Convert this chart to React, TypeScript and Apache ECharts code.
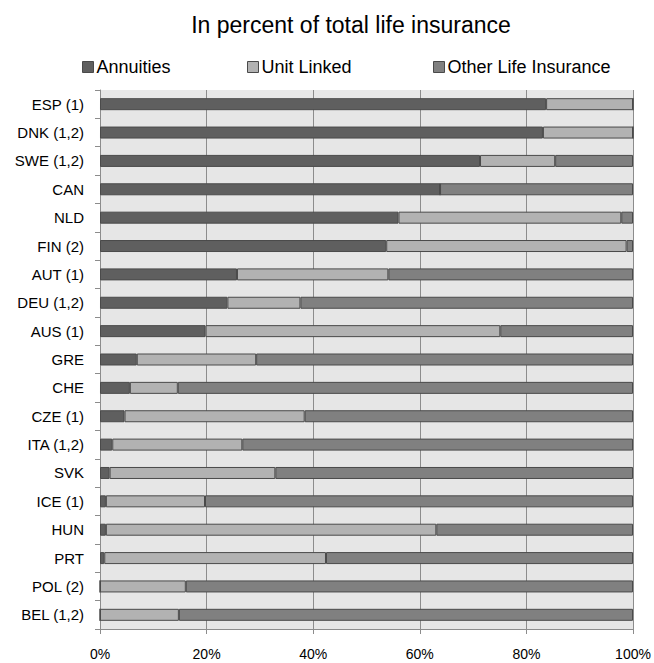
import React, { useEffect, useRef } from "react";
import * as echarts from "echarts";

const title = "In percent of total life insurance";
const categories = [
  "ESP (1)", "DNK (1,2)", "SWE (1,2)", "CAN", "NLD", "FIN (2)", "AUT (1)", "DEU (1,2)", "AUS (1)",
  "GRE", "CHE", "CZE (1)", "ITA (1,2)", "SVK", "ICE (1)", "HUN", "PRT", "POL (2)", "BEL (1,2)",
];
const annuities = [83.7, 83.1, 71.3, 63.8, 56.0, 53.7, 25.7, 23.9, 19.8, 6.9, 5.6, 4.6, 2.3, 1.8, 1.1, 1.1, 0.8, 0, 0];
const unitLinked = [16.3, 16.9, 14.1, 0, 41.8, 45.1, 28.4, 13.7, 55.3, 22.4, 9.0, 33.8, 24.4, 31.1, 18.6, 62.0, 41.6, 16.1, 14.8];
const otherLife = [0, 0, 14.6, 36.2, 2.2, 1.2, 45.9, 62.4, 24.9, 70.7, 85.4, 61.6, 73.3, 67.1, 80.3, 36.9, 57.6, 83.9, 85.2];
const seriesNames = ["Annuities", "Unit Linked", "Other Life Insurance"];
const xTicks = [0, 20, 40, 60, 80, 100];

const FONT = "'Liberation Sans', Arial, sans-serif";

export default function App() {
  const ref = useRef<HTMLDivElement>(null);
  useEffect(() => {
    if (!ref.current) return;
    const chart = echarts.init(ref.current, undefined, { renderer: "svg" });
    const colors = ["#5f5f5f", "#b2b2b2", "#808080"];
    const values = [annuities, unitLinked, otherLife];
    const legendLefts = [82, 247, 433];
    chart.setOption({
      animation: false,
      backgroundColor: "#ffffff",
      color: colors,
      title: {
        text: title,
        left: 346,
        top: 8,
        textAlign: "center",
        textStyle: { fontFamily: FONT, fontSize: 23, fontWeight: "normal", color: "#000" },
      },
      legend: seriesNames.map((n, i) => ({
        data: [n],
        left: legendLefts[i],
        top: 58,
        padding: 0,
        itemWidth: 11,
        itemHeight: 11,
        itemGap: 4,
        icon: "rect",
        itemStyle: { borderColor: "#4a4a4a", borderWidth: 1 },
        textStyle: { fontFamily: FONT, fontSize: 18, color: "#000", padding: [0, 0, 0, -2] },
        selectedMode: false,
      })),
      grid: {
        left: 100,
        right: 21,
        top: 90,
        bottom: 34,
        show: true,
        backgroundColor: "#e6e6e6",
        borderWidth: 0,
      },
      xAxis: {
        type: "value",
        min: xTicks[0],
        max: xTicks[xTicks.length - 1],
        interval: 20,
        axisLabel: {
          formatter: "{value}%",
          fontFamily: FONT,
          fontSize: 14,
          color: "#000",
          margin: 18,
        },
        axisLine: { show: true, lineStyle: { color: "#8c8c8c" } },
        axisTick: { show: true, length: 5, lineStyle: { color: "#8c8c8c" } },
        splitLine: { show: true, lineStyle: { color: "#8c8c8c", width: 1 } },
      },
      yAxis: {
        type: "category",
        data: categories,
        inverse: true,
        axisLabel: { fontFamily: FONT, fontSize: 15, color: "#000", margin: 16 },
        axisLine: { show: true, lineStyle: { color: "#8c8c8c" } },
        axisTick: { show: true, length: 5, lineStyle: { color: "#8c8c8c" } },
        splitLine: { show: false },
      },
      series: seriesNames.map((n, i) => ({
        name: n,
        type: "bar",
        stack: "total",
        barWidth: 12,
        data: values[i],
        itemStyle: { color: colors[i], borderColor: "#4a4a4a", borderWidth: 1 },
        emphasis: { disabled: true },
      })),
    });
    return () => chart.dispose();
  }, []);
  return <div ref={ref} style={{ position: "fixed", left: 0, top: 0, width: 654, height: 663 }} />;
}
